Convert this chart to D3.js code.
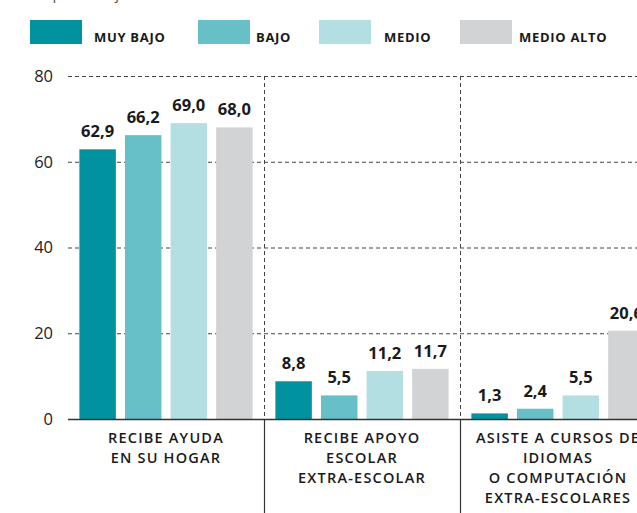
<!DOCTYPE html>
<html><head><meta charset="utf-8">
<script src="https://cdn.jsdelivr.net/npm/d3@7"></script>
<style>body{margin:0;background:#fff}svg{display:block}</style>
</head><body>
<script>
const categories = [
  ["RECIBE AYUDA","EN SU HOGAR"],
  ["RECIBE APOYO","ESCOLAR","EXTRA-ESCOLAR"],
  ["ASISTE A CURSOS DE","IDIOMAS","O COMPUTACIÓN","EXTRA-ESCOLARES"]
];
const series = ["MUY BAJO","BAJO","MEDIO","MEDIO ALTO"];
const muyBajo = [62.9, 8.8, 1.3];
const bajo = [66.2, 5.5, 2.4];
const medio = [69.0, 11.2, 5.5];
const medioAlto = [68.0, 11.7, 20.6];
const yTicks = [0, 20, 40, 60, 80];
const colors = ["#00929f", "#67bfc7", "#b3dfe3", "#d1d3d4"];
const values = [muyBajo, bajo, medio, medioAlto];

const W = 637, H = 513;
const svg = d3.select("body").append("svg").attr("width", W).attr("height", H);
const font = "'Open Sans', 'Noto Sans', sans-serif";

// top (cropped) caption
svg.append("text").attr("x", 31).attr("y", -1).attr("font-family", font)
  .attr("font-size", 15).attr("fill", "#555").text("En porcentaje de alumnos");

const x0 = d3.scaleBand().domain(d3.range(categories.length)).range([68, 68 + 196 * 3]);
const x1 = d3.scaleBand().domain(d3.range(series.length)).range([0, x0.bandwidth()])
  .paddingInner(0.2).paddingOuter(0.25);
const y = d3.scaleLinear().domain([0, 80]).range([419, 76]);

// horizontal gridlines
svg.append("g").selectAll("line").data(yTicks.filter(d => d > 0)).join("line")
  .attr("x1", 68).attr("x2", W).attr("y1", d => y(d) + 0.5).attr("y2", d => y(d) + 0.5)
  .attr("stroke", "#444").attr("stroke-width", 1).attr("stroke-dasharray", "4,3");

// vertical separators
const seps = [1, 2];
svg.append("g").selectAll("line").data(seps).join("line")
  .attr("x1", d => x0(d) + 0.5).attr("x2", d => x0(d) + 0.5)
  .attr("y1", y(80)).attr("y2", y(0))
  .attr("stroke", "#444").attr("stroke-dasharray", "4,3");
svg.append("g").selectAll("line").data(seps).join("line")
  .attr("x1", d => x0(d) + 0.5).attr("x2", d => x0(d) + 0.5)
  .attr("y1", y(0)).attr("y2", H)
  .attr("stroke", "#333").attr("stroke-width", 1.2);

// y tick labels
svg.append("g").selectAll("text").data(yTicks).join("text")
  .attr("x", 53).attr("y", d => y(d)).attr("dy", "0.36em").attr("text-anchor", "end")
  .attr("font-family", font).attr("font-size", 16.5).attr("fill", "#222").text(d => d);

// bars
const groups = svg.append("g").selectAll("g").data(categories).join("g")
  .attr("transform", (d, i) => `translate(${x0(i)},0)`);
groups.each(function(c, ci) {
  const g = d3.select(this);
  series.forEach((s, si) => {
    const v = values[si][ci];
    g.append("rect").attr("x", x1(si)).attr("width", x1.bandwidth())
      .attr("y", y(v)).attr("height", y(0) - y(v)).attr("fill", colors[si]);
    g.append("text").attr("x", x1(si) + x1.bandwidth() / 2).attr("y", y(v) - 12)
      .attr("text-anchor", "middle").attr("font-family", font).attr("font-weight", 700)
      .attr("font-size", 16.5).attr("fill", "#1a1a1a").text(d3.format(".1f")(v).replace(".", ","));
  });
  const t = g.append("text").attr("text-anchor", "middle").attr("font-family", font)
    .attr("font-weight", 600).attr("font-size", 14.5).attr("letter-spacing", "1.2px").attr("fill", "#1a1a1a");
  c.forEach((line, li) => {
    t.append("tspan").attr("x", x0.bandwidth() / 2).attr("y", 443 + li * 20).text(line);
  });
});

// baseline
svg.append("line").attr("x1", 68).attr("x2", W).attr("y1", y(0) + 0.5).attr("y2", y(0) + 0.5)
  .attr("stroke", "#333").attr("stroke-width", 1.3);

// legend
const legX = [30, 198, 319, 460];
const leg = svg.append("g").selectAll("g").data(series).join("g")
  .attr("transform", (d, i) => `translate(${legX[i]},20)`);
leg.append("rect").attr("width", 52).attr("height", 24).attr("fill", (d, i) => colors[i]);
leg.append("text").attr("x", (d, i) => [64, 58, 65, 59][i]).attr("y", 21.5)
  .attr("font-family", font).attr("font-weight", 700).attr("font-size", 13)
  .attr("letter-spacing", "0.7px").attr("fill", "#1a1a1a").text(d => d);
</script>
</body></html>
